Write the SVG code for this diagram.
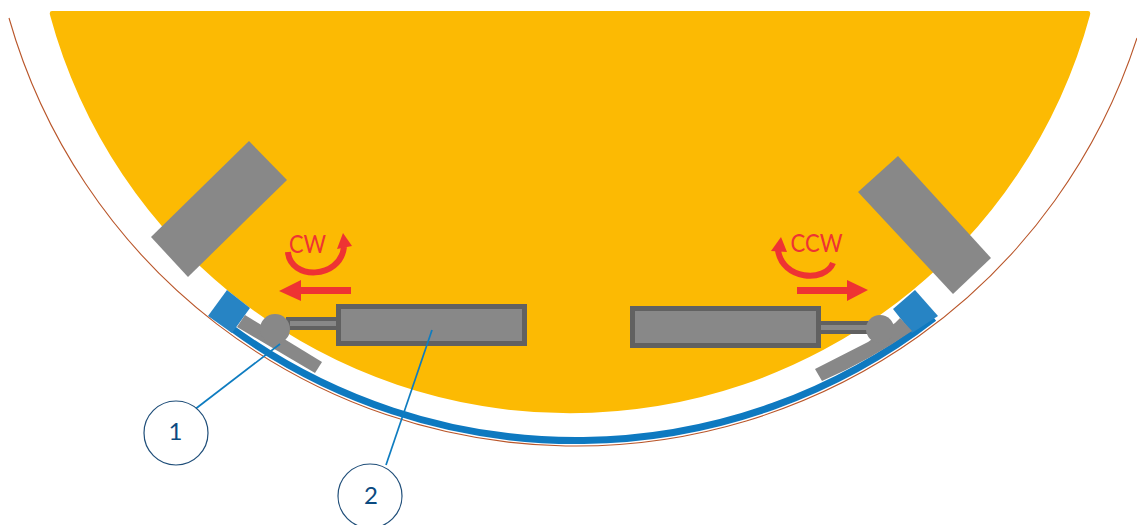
<svg xmlns="http://www.w3.org/2000/svg" width="1137" height="525" viewBox="0 0 1137 525">
<style>
.gray{fill:#888888}
.blue{fill:#2784c4}
.act{fill:#888888;stroke:#616161;stroke-width:5}
.rod{fill:#888888;stroke:#616161;stroke-width:4}
.red{fill:#ee3333}
.rarc{fill:none;stroke:#ee3333;stroke-width:6}
.lead{fill:none;stroke:#0e7cc0;stroke-width:1.7}
.callout{fill:#ffffff;stroke:#1f4e79;stroke-width:1.2}
.lbl{font-family:"Lato","Open Sans",sans-serif;font-size:25px;fill:#ee3333}
.num{font-family:"Lato","Open Sans",sans-serif;font-size:24px;fill:#0b4a80;text-anchor:middle}
</style>
<g id="vessel">
<path id="shell" d="M9 18A589.600 589.600 0 0 0 1137 38" fill="none" stroke="#b9562a" stroke-width="1.1"/>
<path id="tank" d="M52 11H1088Q1091 11 1090 15A538.600 538.600 0 0 1 50 15Q49 11 52 11Z" fill="#fcba03"/>
</g>
<g id="pad-upper-left"><polygon class="gray" points="249,141 287,180 188,277 151,237"/></g>
<g id="pad-upper-right"><polygon class="gray" points="898,156 991,258 953,294 858,192"/></g>
<g id="track"><path d="M230 327A584 584 0 0 0 934 318" fill="none" stroke="#0e79c0" stroke-width="7"/></g>
<g id="left-assembly">
<polygon class="blue" points="227,290 250,308 232,333 208,316"/>
<polygon class="gray" points="245,315 322,362 315,373 237,327"/>
<rect class="rod" x="288" y="319" width="50" height="9"/>
<circle class="gray" cx="275" cy="329" r="15"/>
<rect id="actuator-left" class="act" x="338.500" y="306.500" width="186" height="37"/>
</g>
<g id="right-assembly">
<polygon class="blue" points="915,290 938,316 912,333 893,309"/>
<path class="gray" d="M815 369L868 342L895 323L900 318L912 331Q870 360 822 381Z"/>
<rect class="rod" x="819" y="323" width="50" height="9"/>
<circle class="gray" cx="880" cy="329" r="14"/>
<rect id="actuator-right" class="act" x="632.500" y="308.500" width="186" height="37"/>
</g>
<g id="motion-left">
<polygon class="red" points="279,291 301,280 301,287 351,287 351,294 301,294 301,301"/>
<path class="rarc" d="M288 252C290 280 340 280 344 247"/>
<polygon class="red" points="343,233 352,246 337,249"/>
<text class="lbl" x="289" y="253" textLength="37" lengthAdjust="spacingAndGlyphs">CW</text>
</g>
<g id="motion-right">
<polygon class="red" points="868,290 847,280 847,287 797,287 797,294 847,294 847,301"/>
<path class="rarc" d="M833 263C825 283 782 280 778 250"/>
<polygon class="red" points="781,237 787,252 771,251"/>
<text class="lbl" x="790.500" y="252" textLength="52" lengthAdjust="spacingAndGlyphs">CCW</text>
</g>
<g id="connectors">
<line class="lead" x1="194" y1="410" x2="280" y2="344"/>
<line class="lead" x1="386" y1="465" x2="432" y2="330"/>
</g>
<g id="callout-1"><circle class="callout" cx="176" cy="433" r="32"/><text class="num" x="175.500" y="440">1</text></g>
<g id="callout-2"><circle class="callout" cx="370" cy="496" r="32"/><text class="num" x="371" y="503.500">2</text></g>
</svg>
